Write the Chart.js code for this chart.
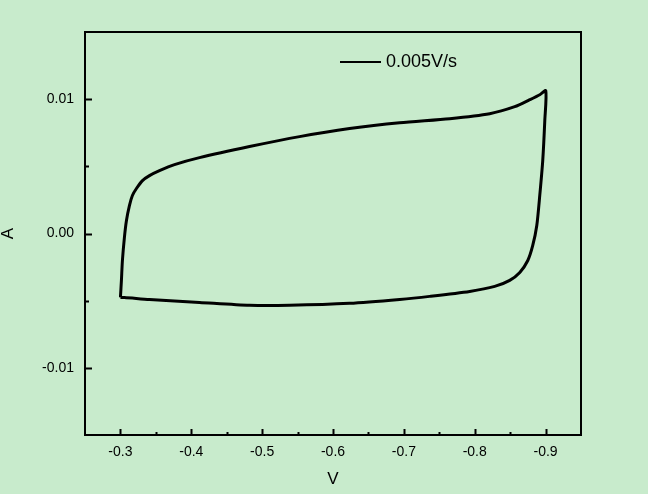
<!DOCTYPE html>
<html>
<head>
<meta charset="utf-8">
<script src="https://cdn.jsdelivr.net/npm/chart.js@4/dist/chart.umd.min.js"></script>
<style>
  html, body { margin: 0; padding: 0; background: #c8ebcc; }
  canvas { display: block; }
</style>
</head>
<body>
<canvas id="cv-chart" width="648" height="494"></canvas>
<script>
// scan rate label
var scanLabel = "0.005V/s";

// potential (V) and current (A), one closed loop
var voltage = [
    -0.300, -0.3014, -0.3028, -0.3056, -0.3085, -0.3127, -0.3169, -0.3226, -0.3311, -0.341,
    -0.3551, -0.3763, -0.4116, -0.4822, -0.5528, -0.6234, -0.6941, -0.7647, -0.8212, -0.8565,
    -0.8777, -0.8918, -0.9003,
    -0.8989, -0.896, -0.8918, -0.8876, -0.8819, -0.8749, -0.8636, -0.8494, -0.8282, -0.7929,
    -0.7364, -0.6941, -0.6234, -0.5387, -0.4822, -0.4116, -0.341, -0.3056, -0.300
];
var current = [
    -0.00476, -0.00349, -0.00201, -0.0003, 0.00097, 0.00208, 0.00283, 0.00335, 0.00394, 0.00431,
    0.00468, 0.00513, 0.00565, 0.00647, 0.00721, 0.00781, 0.00825, 0.00855, 0.00892, 0.00944,
    0.00996, 0.01033, 0.01063,
    0.0084, 0.00543, 0.00283, 0.0006, -0.00089, -0.00201, -0.0029, -0.00349, -0.00394, -0.00431,
    -0.00468, -0.00491, -0.0052, -0.00535, -0.00535, -0.00513, -0.00491, -0.00476, -0.00476
];

var xTicks = [-0.3, -0.4, -0.5, -0.6, -0.7, -0.8, -0.9];
var xMinorTicks = [-0.35, -0.45, -0.55, -0.65, -0.75, -0.85];
var yTicks = [0.01, 0.0, -0.01];
var yTickLabels = ["0.01", "0.00", "-0.01"];
var yMinorTicks = [0.005, -0.005];

var points = voltage.map((v, i) => ({ x: v, y: current[i] }));

// box, inward ticks and the legend
var framePlugin = {
    id: 'frame',
    afterDraw(chart) {
        const ctx = chart.ctx;
        const area = chart.chartArea;
        const xs = chart.scales.x;
        const ys = chart.scales.y;
        ctx.save();
        ctx.strokeStyle = '#000';
        ctx.lineWidth = 2;
        ctx.strokeRect(area.left, area.top, area.right - area.left, area.bottom - area.top);

        ctx.beginPath();
        xTicks.forEach(v => {
            let px = Math.round(xs.getPixelForValue(v)) + 0.5;
            ctx.moveTo(px, area.bottom);
            ctx.lineTo(px, area.bottom - 6);
        });
        xMinorTicks.forEach(v => {
            let px = Math.round(xs.getPixelForValue(v)) + 0.5;
            ctx.moveTo(px, area.bottom);
            ctx.lineTo(px, area.bottom - 3);
        });
        yTicks.forEach(v => {
            let py = Math.round(ys.getPixelForValue(v)) + 0.5;
            ctx.moveTo(area.left, py);
            ctx.lineTo(area.left + 7, py);
        });
        yMinorTicks.forEach(v => {
            let py = Math.round(ys.getPixelForValue(v)) + 0.5;
            ctx.moveTo(area.left, py);
            ctx.lineTo(area.left + 4, py);
        });
        ctx.stroke();

        // legend
        ctx.lineWidth = 2;
        ctx.beginPath();
        ctx.moveTo(340, 62);
        ctx.lineTo(381, 62);
        ctx.stroke();
        ctx.fillStyle = '#000';
        ctx.font = '18px "Liberation Sans", Arial, sans-serif';
        ctx.textBaseline = 'middle';
        ctx.fillText(chart.data.datasets[0].label, 386, 62);
        ctx.restore();
    }
};

new Chart(document.getElementById("cv-chart"), {
    type: 'scatter',
    data: {
        datasets: [{
            label: scanLabel,
            data: points,
            showLine: true,
            borderColor: '#000',
            borderWidth: 3,
            pointRadius: 0,
            tension: 0.25,
            fill: false
        }]
    },
    options: {
        responsive: false,
        animation: false,
        layout: { padding: { left: 0, top: 32, right: 67, bottom: 0 } },
        plugins: {
            legend: { display: false },
            tooltip: { enabled: false }
        },
        scales: {
            x: {
                type: 'linear',
                reverse: true,
                min: -0.95,
                max: -0.25,
                afterBuildTicks: (scale) => { scale.ticks = xTicks.map(v => ({ value: v })); },
                afterFit: (scale) => { scale.height = 59; },
                grid: { display: false, drawTicks: false },
                border: { display: false },
                ticks: {
                    padding: 9,
                    color: '#000',
                    font: { family: '"Liberation Sans", Arial, sans-serif', size: 14 },
                    callback: (v) => String(Math.round(v * 10) / 10)
                },
                title: {
                    display: true,
                    text: 'V',
                    color: '#000',
                    padding: { top: 0, bottom: 6 },
                    font: { family: '"Liberation Sans", Arial, sans-serif', size: 17, lineHeight: 1 }
                }
            },
            y: {
                type: 'linear',
                min: -0.015,
                max: 0.015,
                afterBuildTicks: (scale) => { scale.ticks = yTicks.map(v => ({ value: v })); },
                afterFit: (scale) => { scale.width = 85; },
                grid: { display: false, drawTicks: false },
                border: { display: false },
                ticks: {
                    padding: 11,
                    color: '#000',
                    font: { family: '"Liberation Sans", Arial, sans-serif', size: 14 },
                    callback: (v, i) => yTickLabels[i]
                },
                title: {
                    display: true,
                    text: 'A',
                    color: '#000',
                    padding: { top: 0, bottom: 0 },
                    font: { family: '"Liberation Sans", Arial, sans-serif', size: 17, lineHeight: 1 }
                }
            }
        }
    },
    plugins: [framePlugin]
});
</script>
</body>
</html>
